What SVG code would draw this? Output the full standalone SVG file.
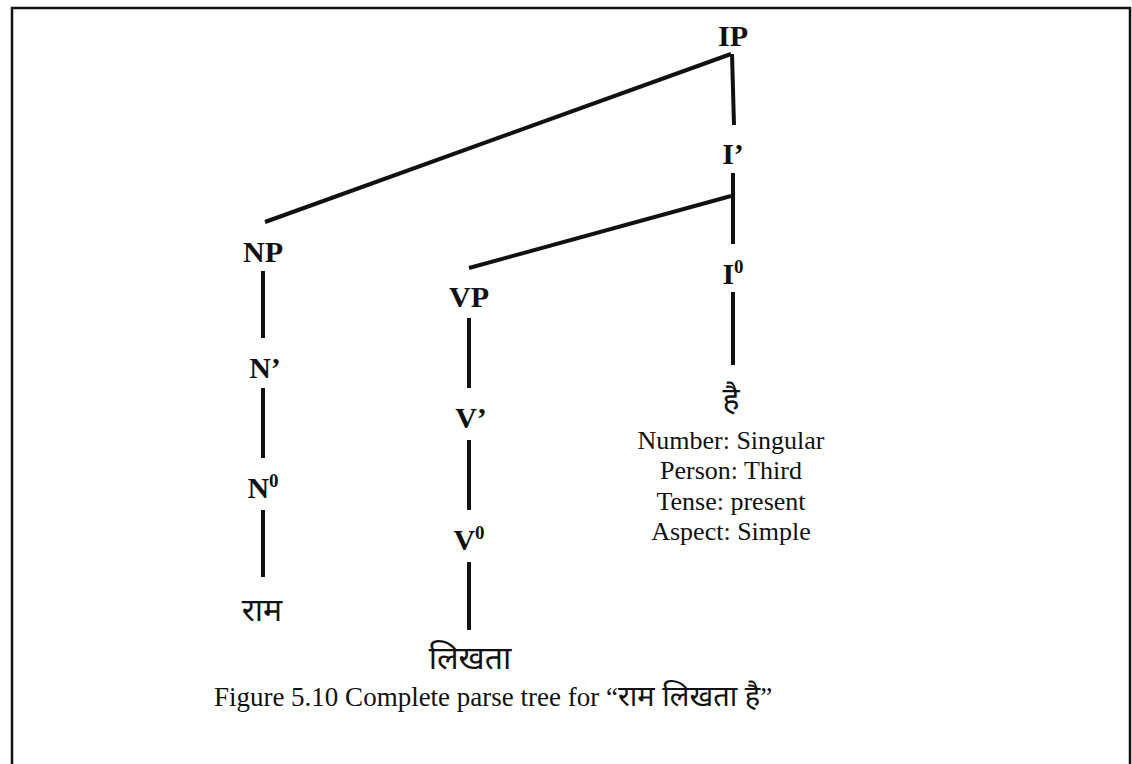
<svg xmlns="http://www.w3.org/2000/svg" width="1132" height="764" viewBox="0 0 1132 764">
<style>
.lbl{font-family:"Liberation Serif","Times New Roman",serif;font-weight:bold;font-size:30px;fill:#111;text-anchor:middle}
.sup{font-size:19px}
.txt{font-family:"Liberation Serif","Times New Roman",serif;font-size:26px;fill:#111;text-anchor:middle}
.cap{font-family:"Liberation Serif","Times New Roman",serif;font-size:27px;fill:#111;text-anchor:middle}
.dev{font-family:"Noto Sans Devanagari","Noto Sans","Noto Sans CJK SC",sans-serif;font-size:32px;fill:#111;text-anchor:middle}
.devc{font-family:"Noto Sans Devanagari","Noto Sans","Noto Sans CJK SC",sans-serif;font-size:29px}
.edge{stroke:#111;stroke-width:4;fill:none;stroke-linecap:butt}
.border{stroke:#111;stroke-width:2.5;fill:none}
</style>
<rect width="1132" height="764" fill="#fff"/>
<path class="border" d="M12,764 V8 H1130 V764"/>
<g id="connectors">
<line class="edge" x1="731" y1="54" x2="265" y2="222"/>
<line class="edge" x1="732" y1="54" x2="734" y2="125"/>
<line class="edge" x1="731" y1="196" x2="469" y2="268"/>
<line class="edge" x1="733" y1="173" x2="733" y2="244"/>
<line class="edge" x1="733" y1="292" x2="733" y2="365"/>
<line class="edge" x1="263" y1="271" x2="263" y2="338"/>
<line class="edge" x1="263" y1="388" x2="263" y2="458"/>
<line class="edge" x1="263" y1="510" x2="263" y2="577"/>
<line class="edge" x1="469" y1="318" x2="469" y2="388"/>
<line class="edge" x1="469" y1="440" x2="469" y2="510"/>
<line class="edge" x1="469" y1="562" x2="469" y2="630"/>
</g>
<g id="IP"><text class="lbl" x="733" y="46">IP</text></g>
<g id="I1"><text class="lbl" x="733" y="164">I’</text></g>
<g id="I0"><text class="lbl" x="733" y="284">I<tspan class="sup" dy="-11">0</tspan></text></g>
<g id="hai"><text class="dev" x="731" y="410">है</text></g>
<g id="features">
<text class="txt" x="731" y="449">Number: Singular</text>
<text class="txt" x="731" y="479">Person: Third</text>
<text class="txt" x="731" y="510">Tense: present</text>
<text class="txt" x="731" y="540">Aspect: Simple</text>
</g>
<g id="NP"><text class="lbl" x="263" y="262">NP</text></g>
<g id="N1"><text class="lbl" x="265" y="378">N’</text></g>
<g id="N0"><text class="lbl" x="263" y="498">N<tspan class="sup" dy="-11">0</tspan></text></g>
<g id="ram"><text class="dev" x="262" y="621">राम</text></g>
<g id="VP"><text class="lbl" x="469" y="307">VP</text></g>
<g id="V1"><text class="lbl" x="471" y="428">V’</text></g>
<g id="V0"><text class="lbl" x="469" y="550">V<tspan class="sup" dy="-11">0</tspan></text></g>
<g id="likhata"><text class="dev" x="470" y="669">लिखता</text></g>
<g id="caption"><text class="cap" x="493" y="706">Figure 5.10 Complete parse tree for “<tspan class="devc">राम लिखता है</tspan>”</text></g>
</svg>
